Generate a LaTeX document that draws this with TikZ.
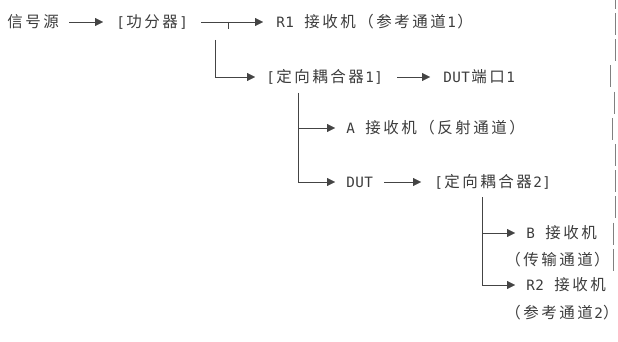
\documentclass[tikz,border=0pt]{standalone}
\usepackage{fontspec}
\newfontfamily\cjkfont{Noto Sans CJK SC}
\newfontfamily\latfont[Scale=0.92]{DejaVu Sans Mono}
\usepackage{tikz}
\usetikzlibrary{arrows.meta,positioning}
\definecolor{ink}{HTML}{3C3C3C}
\definecolor{wire}{HTML}{444444}
% fixed cells: 9pt for ASCII, 18pt for CJK, ~ is a blank cell
\let\monoend\relax
\newcommand\mono[1]{\monostep#1\monoend}
\def\monostep#1{%
  \ifx#1\monoend\else
    \ifx#1~\makebox[9pt]{}\else
      \ifnum`#1>255 \makebox[18pt]{\cjkfont#1}\else\makebox[9pt]{\latfont#1}\fi
    \fi
    \expandafter\monostep
  \fi}
% closing paren at the line end, half cell
\newcommand\rparen{\makebox[9pt][l]{\cjkfont ）}}

\begin{document}
\begin{tikzpicture}[x=1pt,y=-1pt,
  lbl/.style={inner sep=0pt,anchor=west,text=ink,font=\fontsize{15.5}{18}\selectfont},
  arr/.style={-{Triangle[length=8pt,width=8pt]},thin,color=wire,shorten <=9pt,shorten >=13pt},
  tee/.style={-{Triangle[length=8pt,width=8pt]},thin,color=wire,shorten >=11pt},
  edge/.style={thin,color=gray}]
\useasboundingbox (0,0) rectangle (618,342);
% first row
\node[lbl] (src) at (6,22) {\mono{信号源}};
\node[lbl] (split) at (116,22) {\mono{[功分器]}};
\node[lbl] (r1) at (276,22) {\mono{R1~接收机（参考通道1）}};
\draw[arr] (src) -- (split);
\draw[arr,shorten <=13pt] (split) -- (r1);
\draw[wire,thin] (228,22) -- (228,29);
% coupler 1
\node[lbl] (cpl1) at (266,77) {\mono{[定向耦合器1]}};
\node[lbl] (port1) at (443,77) {\mono{DUT端口1}};
\draw[tee] (215,40) |- (cpl1);
\draw[arr,shorten <=14pt] (cpl1) -- (port1);
\coordinate (t1) at (298,93);
\node[lbl] (rxA) at (346,128) {\mono{A~接收机（反射通道）}};
\node[lbl] (dut) at (346,182) {\mono{DUT}};
\node[lbl] (cpl2) at (434,182) {\mono{[定向耦合器2]}};
\draw[tee] (t1) |- (rxA);
\draw[tee] (t1) |- (dut);
\draw[arr,shorten <=11pt] (dut) -- (cpl2);
% coupler 2
\coordinate (t2) at (482,197);
\node[lbl] (rxB) at (526,233) {\mono{B~接收机}};
\node[lbl] (rxBsub) at (504,260) {\mono{（传输通道}\rparen};
\node[lbl] (rxR2) at (526,285) {\mono{R2~接收机}};
\node[lbl] (rxR2sub) at (504,313) {\mono{（参考通道2}\rparen};
\draw[tee] (t2) |- (rxB);
\draw[tee] (t2) |- (rxR2);
% right edge
\foreach \k/\xx in {-1/615,0/615,1/615,2/610,3/614,4/612,5/615,6/615,7/615,8/613,9/613}
  \draw[edge] (\xx,{13+26.2*\k}) -- ++(0,22);
\end{tikzpicture}
\end{document}
